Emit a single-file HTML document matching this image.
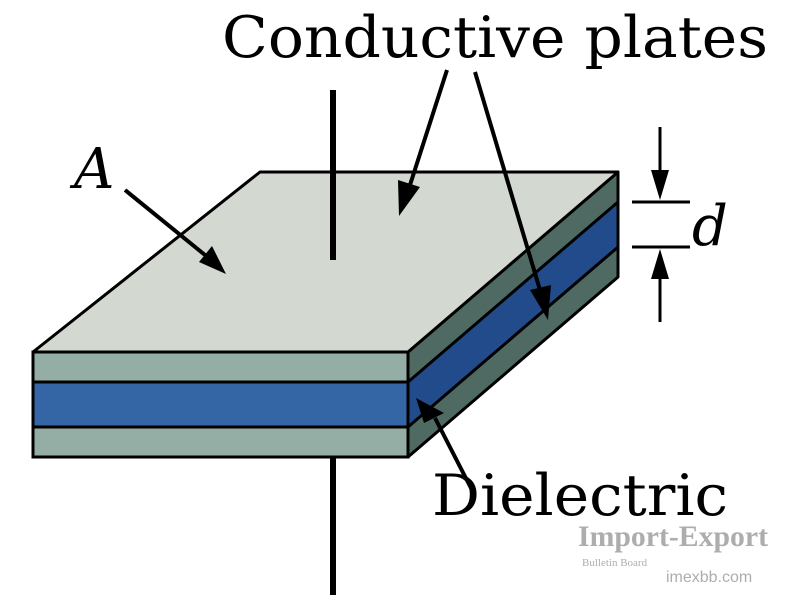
<!DOCTYPE html>
<html><head><style>html,body{margin:0;padding:0;background:#fff;width:800px;height:600px;overflow:hidden}</style></head>
<body>
<svg width="800" height="600" viewBox="0 0 800 600" xmlns="http://www.w3.org/2000/svg">
<line x1="333" y1="457" x2="333" y2="595" stroke="#000" stroke-width="6"/>
<polygon points="408,352 618,172 618,277 408,457" fill="#4f6a63" stroke="#000" stroke-width="3" stroke-linejoin="round"/>
<polygon points="408,382 618,202 618,247 408,427" fill="#224b8c" stroke="#000" stroke-width="3"/>
<rect x="33" y="352" width="375" height="105" fill="#94aea6" stroke="#000" stroke-width="3"/>
<rect x="33" y="382" width="375" height="45" fill="#3466a6" stroke="#000" stroke-width="3"/>
<polygon points="33,352 260,172 618,172 408,352" fill="#d3d8d1" stroke="#000" stroke-width="3" stroke-linejoin="round"/>
<line x1="333" y1="90" x2="333" y2="260" stroke="#000" stroke-width="6"/>
<g stroke="#000" stroke-width="4" fill="none">
<line x1="447" y1="70" x2="410" y2="185"/>
<line x1="475" y1="72" x2="540" y2="290"/>
<line x1="125" y1="190" x2="205" y2="255"/>
<line x1="473" y1="492" x2="435" y2="418"/>
<line x1="632" y1="202" x2="690" y2="202" stroke-width="3"/>
<line x1="632" y1="247" x2="690" y2="247" stroke-width="3"/>
<line x1="660" y1="127" x2="660" y2="175" stroke-width="3"/>
<line x1="660" y1="275" x2="660" y2="322" stroke-width="3"/>
</g>
<g fill="#000">
<polygon points="399,216 398,180 420,187"/>
<polygon points="548,320 530,290 551,285"/>
<polygon points="226,274 199,262 212,246"/>
<polygon points="416,398 444,413 424,423"/>
<polygon points="660,200 651,170 669,170"/>
<polygon points="660,249 651,279 669,279"/>
</g>
<g font-family="'DejaVu Serif','Liberation Serif',serif" fill="#000">
<text x="222" y="57" font-size="57" textLength="546" lengthAdjust="spacingAndGlyphs">Conductive plates</text>
<text x="74" y="188" font-size="56" font-style="italic">A</text>
<text x="692" y="245" font-size="56" font-style="italic">d</text>
<text x="432" y="515" font-size="57" textLength="296" lengthAdjust="spacingAndGlyphs">Dielectric</text>
</g>
<g font-family="'Liberation Serif',serif" fill="#999" opacity="0.8">
<text x="578" y="546" font-size="30" font-weight="bold" textLength="190" lengthAdjust="spacingAndGlyphs">Import-Export</text>
<text x="582" y="566" font-size="11">Bulletin Board</text>
<text x="666" y="582" font-size="16" font-family="'Liberation Sans',sans-serif">imexbb.com</text>
</g>
</svg>
</body></html>
